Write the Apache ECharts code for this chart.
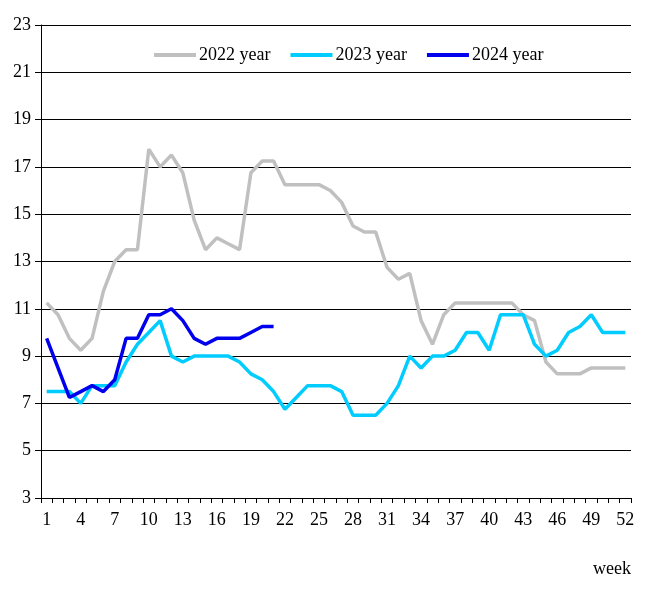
<!DOCTYPE html>
<html>
<head>
<meta charset="utf-8">
<script src="https://cdn.jsdelivr.net/npm/echarts@6/dist/echarts.min.js"></script>
<style>
  html, body { margin: 0; padding: 0; background: #fff; }
  #chart { width: 648px; height: 594px; }
</style>
</head>
<body>
<div id="chart"></div>
<script>
// week numbers 1..52
var weeks = [];
for (var i = 1; i <= 52; i++) weeks.push(String(i));

var y2022 = [11.25, 10.75, 9.75, 9.25, 9.75, 11.75, 13, 13.5, 13.5, 17.75,
             17, 17.5, 16.75, 14.75, 13.5, 14, 13.75, 13.5, 16.75, 17.25,
             17.25, 16.25, 16.25, 16.25, 16.25, 16, 15.5, 14.5, 14.25, 14.25,
             12.75, 12.25, 12.5, 10.5, 9.5, 10.75, 11.25, 11.25, 11.25, 11.25,
             11.25, 11.25, 10.75, 10.5, 8.75, 8.25, 8.25, 8.25, 8.5, 8.5,
             8.5, 8.5];

var y2023 = [7.5, 7.5, 7.5, 7, 7.75, 7.75, 7.75, 8.75, 9.5, 10,
             10.5, 9, 8.75, 9, 9, 9, 9, 8.75, 8.25, 8,
             7.5, 6.75, 7.25, 7.75, 7.75, 7.75, 7.5, 6.5, 6.5, 6.5,
             7, 7.75, 9, 8.5, 9, 9, 9.25, 10, 10, 9.25,
             10.75, 10.75, 10.75, 9.5, 9, 9.25, 10, 10.25, 10.75, 10,
             10, 10];

var y2024 = [9.75, 8.5, 7.25, 7.5, 7.75, 7.5, 8, 9.75, 9.75, 10.75,
             10.75, 11, 10.5, 9.75, 9.5, 9.75, 9.75, 9.75, 10, 10.25,
             10.25];

var seriesNames = ['2022 year', '2023 year', '2024 year'];
var seriesColors = ['#c0c0c0', '#00ccff', '#0000ee'];

var chart = echarts.init(document.getElementById('chart'));

var font = 'Liberation Serif, Times New Roman, serif';

var option = {
    backgroundColor: '#fff',
    animation: false,
    textStyle: { fontFamily: font },
    grid: { left: 41, right: 17, top: 25, bottom: 96, containLabel: false },
    legend: {
        top: 41,
        left: 149,
        itemWidth: 42,
        itemHeight: 4,
        itemGap: 20,
        icon: 'rect',
        textStyle: { fontFamily: font, fontSize: 18, color: '#000', padding: [0, 0, 0, -2] },
        data: seriesNames
    },
    xAxis: {
        type: 'category',
        data: weeks,
        boundaryGap: true,
        name: 'week',
        nameLocation: 'end',
        nameGap: 0,
        nameTextStyle: {
            fontFamily: font, fontSize: 18, color: '#000',
            align: 'right', verticalAlign: 'top', padding: [62, 0, 0, 0]
        },
        axisLine: { lineStyle: { color: '#000', width: 1 } },
        axisTick: { show: true, interval: 0, length: 5, lineStyle: { color: '#000' } },
        axisLabel: { interval: 2, margin: 13, fontFamily: font, fontSize: 18, color: '#000' },
        splitLine: { show: false }
    },
    yAxis: {
        type: 'value',
        min: 3,
        max: 23,
        interval: 2,
        axisLine: { show: true, lineStyle: { color: '#000', width: 1 } },
        axisTick: { show: true, length: 6, lineStyle: { color: '#000' } },
        axisLabel: { margin: 10, fontFamily: font, fontSize: 18, color: '#000' },
        splitLine: { show: true, lineStyle: { color: '#000', width: 1 } }
    },
    series: [
        { name: seriesNames[0], type: 'line', data: y2022, symbol: 'none',
          color: seriesColors[0], lineStyle: { width: 3.5, color: seriesColors[0] } },
        { name: seriesNames[1], type: 'line', data: y2023, symbol: 'none',
          color: seriesColors[1], lineStyle: { width: 3.5, color: seriesColors[1] } },
        { name: seriesNames[2], type: 'line', data: y2024, symbol: 'none',
          color: seriesColors[2], lineStyle: { width: 3.5, color: seriesColors[2] } }
    ]
};

chart.setOption(option);
</script>
</body>
</html>
